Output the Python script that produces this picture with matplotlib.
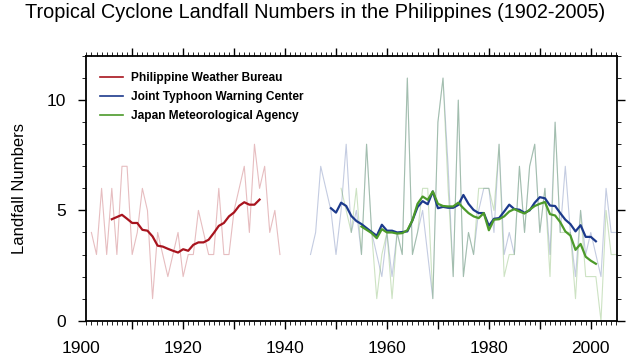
import matplotlib
matplotlib.use('agg')
import matplotlib.pyplot as plt
import matplotlib.transforms as mtransforms
import numpy as np
from matplotlib.ticker import MultipleLocator, NullFormatter

plt.rcParams['font.family'] = ['Liberation Sans', 'DejaVu Sans']

# Philippine Weather Bureau, yearly counts 1902-1939
pwb_years = np.arange(1902, 1940)
pwb_counts = [4, 3, 6, 3, 6, 3, 7, 7, 3, 4, 6, 5, 1, 4, 3, 2, 3, 4, 2, 3,
              3, 5, 4, 3, 3, 6, 3, 3, 5, 6, 7, 4, 8, 6, 7, 4, 5, 3]
# smoothed curve 1906-1935
pwb_smooth_years = np.arange(1906, 1936)
pwb_smooth = [4.60, 4.70, 4.80, 4.62, 4.43, 4.43, 4.12, 4.08, 3.82, 3.40,
              3.36, 3.26, 3.17, 3.09, 3.24, 3.17, 3.44, 3.55, 3.55, 3.67,
              3.97, 4.30, 4.43, 4.73, 4.91, 5.21, 5.37, 5.26, 5.26, 5.49]

# Joint Typhoon Warning Center, 1945-2005
jtwc_years = np.arange(1945, 2006)
jtwc_counts = [3, 4, 7, 6, 5, 3, 5, 8, 4, 5,
               3, 8, 4, 3, 2, 4, 2, 4, 3, 11,
               3, 4, 5, 3, 1, 9, 11, 7, 2, 10,
               2, 4, 3, 5, 6, 6, 4, 8, 3, 4,
               3, 7, 4, 7, 8, 4, 6, 3, 9, 4,
               7, 4, 2, 5, 3, 4, 3, 2, 6, 4, 4]
jtwc_smooth_years = np.arange(1949, 2002)
jtwc_smooth = [5.10, 4.90, 5.35, 5.20, 4.75, 4.52, 4.38, 4.20, 4.02, 3.85,
               4.35, 4.08, 4.08, 4.00, 4.02, 4.05, 4.55, 5.15, 5.42, 5.28,
               5.86, 5.10, 5.16, 5.12, 5.12, 5.25, 5.70, 5.30, 5.02, 4.88,
               4.88, 4.30, 4.62, 4.65, 4.95, 5.26, 5.06, 5.03, 4.89, 5.00,
               5.35, 5.60, 5.55, 5.22, 5.20, 4.88, 4.58, 4.38, 4.05, 4.33,
               3.80, 3.80, 3.60]

# Japan Meteorological Agency, 1951-2005
jma_years = np.arange(1951, 2006)
jma_counts = [6, 5, 4, 6, 3, 8, 4, 1, 3, 4,
              1, 4, 3, 11, 3, 4, 6, 6, 1, 9,
              11, 6, 2, 10, 2, 4, 3, 6, 6, 6,
              5, 8, 2, 3, 3, 7, 4, 7, 8, 4,
              6, 2, 9, 4, 4, 4, 1, 5, 2, 2,
              2, 0, 5, 3, 3]
jma_smooth_years = np.arange(1955, 2002)
jma_smooth = [4.27, 4.12, 3.97, 3.74, 4.15, 4.00, 4.00, 3.95, 3.97, 4.10,
              4.55, 5.30, 5.63, 5.48, 5.86, 5.30, 5.20, 5.18, 5.18, 5.35,
              5.10, 4.88, 4.73, 4.65, 4.88, 4.10, 4.58, 4.60, 4.73, 4.95,
              5.06, 4.95, 4.86, 5.03, 5.20, 5.30, 5.38, 4.83, 4.77, 4.47,
              4.05, 3.86, 3.21, 3.48, 2.90, 2.72, 2.58]

tick_years = list(range(1910, 2001, 10))
label_years = [1900, 1920, 1940, 1960, 1980, 2000]

red = '#a8141e'
blue = '#1c3a8c'
green = '#4c9a2a'

fig = plt.figure(figsize=(6.3, 3.59), dpi=100)
ax = fig.add_axes([0.1370, 0.1067, 0.8420, 0.7373])

ax.plot(pwb_years, pwb_counts, color=red, lw=0.8, alpha=0.28)
ax.plot(jtwc_years, jtwc_counts, color=blue, lw=0.8, alpha=0.26)
ax.plot(jma_years, jma_counts, color=green, lw=0.8, alpha=0.28)

ax.plot(pwb_smooth_years, pwb_smooth, color=red, lw=1.6, label='Philippine Weather Bureau')
ax.plot(jtwc_smooth_years, jtwc_smooth, color=blue, lw=1.6, label='Joint Typhoon Warning Center')
ax.plot(jma_smooth_years, jma_smooth, color=green, lw=1.6, label='Japan Meteorological Agency')

ax.set_xlim(1901, 2005.1)
ax.set_ylim(0, 12)

ax.set_xticks(tick_years)
ax.xaxis.set_major_formatter(NullFormatter())
ax.xaxis.set_minor_locator(MultipleLocator(1))
ax.yaxis.set_major_locator(MultipleLocator(5))
ax.yaxis.set_minor_locator(MultipleLocator(1))

ticklen, tickpad = 6, 8.5
ax.tick_params(which='both', direction='out', top=True, right=True, width=1.0)
ax.tick_params(which='major', length=ticklen, labelsize=12.5, pad=tickpad)
ax.tick_params(which='minor', length=3, width=0.6)
for s in ax.spines.values():
    s.set_linewidth(1.3)

# year labels every 20 years; 1900 lies just left of the axis start,
# so all of them are written as text under the axis
trans = mtransforms.offset_copy(ax.get_xaxis_transform(), fig=fig,
                                y=-(ticklen + tickpad), units='points')
for yr in label_years:
    ax.text(yr, 0, str(yr), transform=trans, ha='center', va='top',
            fontsize=12.5, clip_on=False)

ax.set_ylabel('Landfall Numbers', fontsize=12, labelpad=14)
fig.suptitle('Tropical Cyclone Landfall Numbers in the Philippines (1902-2005)',
             fontsize=14.3, y=0.965, va='center')

leg = ax.legend(loc='upper left', bbox_to_anchor=(0.026, 0.938), frameon=False,
                borderpad=0, borderaxespad=0, handlelength=1.9, handletextpad=0.65,
                labelspacing=0.58, prop={'size': 8.6, 'weight': 'bold'})
for h in leg.get_lines():
    h.set_linewidth(1.2)

fig.savefig('out.png', dpi=100)
